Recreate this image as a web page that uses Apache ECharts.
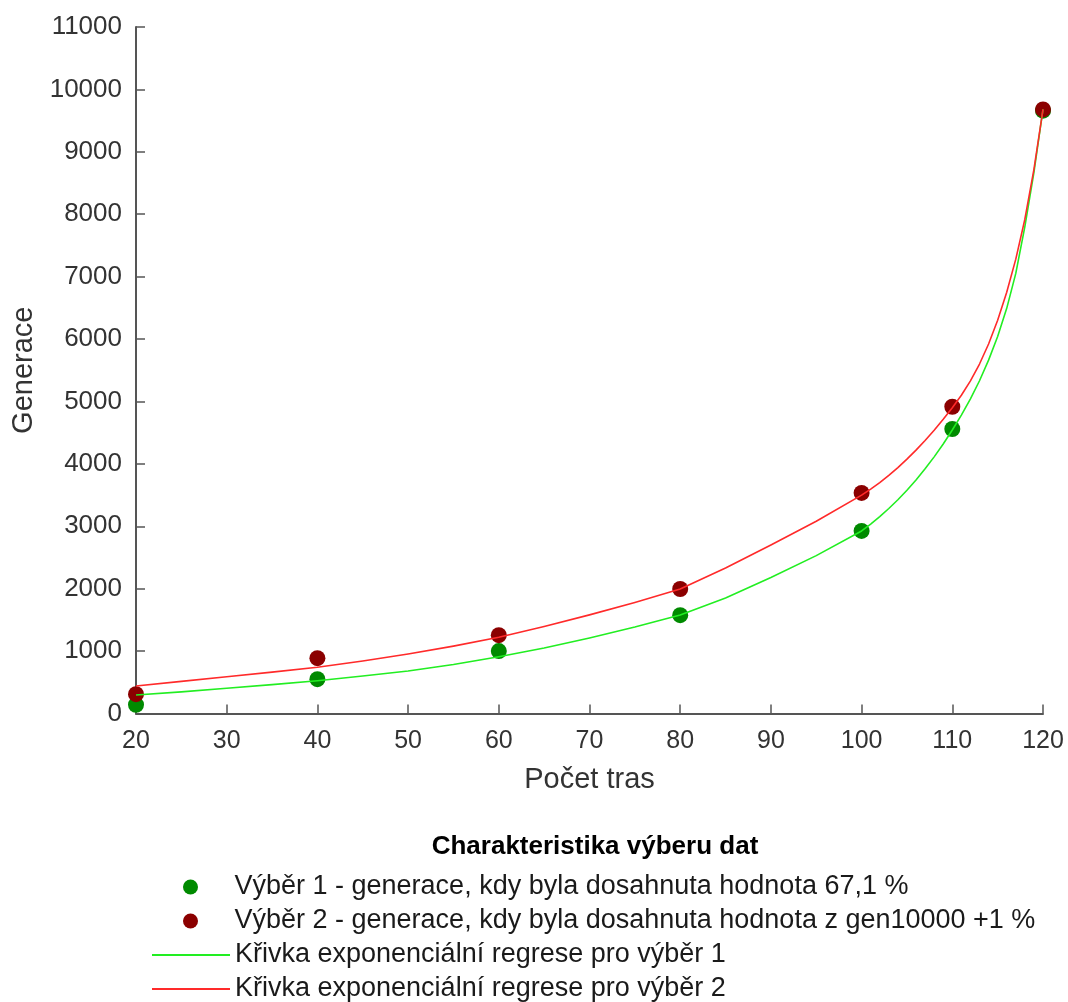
<!DOCTYPE html>
<html>
<head>
<meta charset="utf-8">
<script src="https://cdn.jsdelivr.net/npm/echarts@6/dist/echarts.min.js"></script>
<style>
html,body{margin:0;padding:0;background:#fff;}
#chart{width:1068px;height:1002px;}
</style>
</head>
<body>
<div id="chart"></div>
<script>
// Data
const pointX = [20, 40, 60, 80, 100, 110, 120];
const vyber1 = [140, 550, 1000, 1575, 2925, 4559, 9660];
const vyber2 = [310, 887, 1255, 1995, 3534, 4915, 9680];

const curveX = [20, 25, 30, 35, 40, 45, 50, 55, 60, 65, 70, 75, 80, 85, 90, 95,
  100, 101, 102, 103, 104, 105, 106, 107, 108, 109, 110,
  111, 112, 113, 114, 115, 116, 117, 118, 119, 120];
const krivka1 = [296, 347, 404, 462, 526, 600, 681, 785, 910, 1050, 1210, 1385, 1579, 1850, 2180, 2530,
  2925, 3035, 3155, 3285, 3425, 3577, 3742, 3920, 4112, 4319, 4542,
  4782, 5042, 5332, 5662, 6042, 6492, 7052, 7802, 8672, 9680];
const krivka2 = [440, 515, 590, 663, 740, 840, 954, 1080, 1221, 1395, 1580, 1780, 1995, 2330, 2700, 3080,
  3500, 3595, 3700, 3815, 3940, 4075, 4220, 4375, 4540, 4715, 4900,
  5100, 5330, 5600, 5920, 6300, 6750, 7280, 7920, 8720, 9680];

const names = [
  'Výběr 1 - generace, kdy byla dosahnuta hodnota 67,1 %',
  'Výběr 2 - generace, kdy byla dosahnuta hodnota z gen10000 +1 %',
  'Křivka exponenciální regrese pro výběr 1',
  'Křivka exponenciální regrese pro výběr 2'
];
const legendTitle = 'Charakteristika výberu dat';
const xName = 'Počet tras';
const yName = 'Generace';

const zip = (xs, ys) => xs.map((x, i) => [x, ys[i]]);

const chart = echarts.init(document.getElementById('chart'), null, {renderer: 'canvas'});
const FONT = 'Liberation Sans, Arial, sans-serif';
const axisColor = '#555';
const colors = ['#008a00', '#8b0000', '#22ee22', '#ff2a2a'];
const rowCenters = [887, 921, 955, 989];

function legendFor(i) {
  const isLine = i >= 2;
  return {
    data: [{name: names[i], icon: isLine ? 'rect' : 'circle'}],
    left: isLine ? 152 : 183, top: rowCenters[i] - 15, padding: 0,
    itemWidth: 78, itemHeight: isLine ? 2 : 15,
    itemGap: 0, itemTextGap: isLine ? 9 : 11,
    textStyle: {fontFamily: FONT, fontSize: 27, color: '#1a1a1a', lineHeight: 30},
    selectedMode: false
  };
}

chart.setOption({
  animation: false,
  backgroundColor: '#fff',
  textStyle: {fontFamily: FONT},
  title: {
    text: legendTitle,
    left: 590, top: 829, textAlign: 'center',
    textStyle: {fontFamily: FONT, fontSize: 26, fontWeight: 'bold', color: '#000'}
  },
  legend: [legendFor(0), legendFor(1), legendFor(2), legendFor(3)],
  grid: {left: 136, right: 25, top: 27, bottom: 288.5, containLabel: false},
  xAxis: {
    type: 'value', min: 20, max: 120, interval: 10,
    name: xName, nameLocation: 'middle', nameGap: 52,
    nameTextStyle: {fontFamily: FONT, fontSize: 29, color: '#333'},
    axisLine: {lineStyle: {color: axisColor, width: 2}},
    axisTick: {inside: true, length: 9, lineStyle: {color: axisColor, width: 1.5}},
    axisLabel: {fontFamily: FONT, fontSize: 25, color: '#333', margin: 15, formatter: v => String(v)},
    splitLine: {show: false}
  },
  yAxis: {
    type: 'value', min: 0, max: 11000, interval: 1000,
    name: yName, nameLocation: 'middle', nameGap: 90, nameRotate: 90,
    nameTextStyle: {fontFamily: FONT, fontSize: 29, color: '#333'},
    axisLine: {show: true, lineStyle: {color: axisColor, width: 2}},
    axisTick: {show: true, inside: true, length: 9, lineStyle: {color: axisColor, width: 1.5}},
    axisLabel: {fontFamily: FONT, fontSize: 26, color: '#333', margin: 14, formatter: v => String(v)},
    splitLine: {show: false}
  },
  series: [
    {
      name: names[0], type: 'scatter', data: zip(pointX, vyber1),
      symbol: 'circle', symbolSize: 16, itemStyle: {color: colors[0], opacity: 1}, z: 2
    },
    {
      name: names[1], type: 'scatter', data: zip(pointX, vyber2),
      symbol: 'circle', symbolSize: 16, itemStyle: {color: colors[1], opacity: 1}, z: 3
    },
    {
      name: names[2], type: 'line', data: zip(curveX, krivka1), smooth: false,
      showSymbol: false, symbol: 'none', lineStyle: {color: colors[2], width: 1.6, join: 'round'},
      itemStyle: {color: colors[2]}, z: 4
    },
    {
      name: names[3], type: 'line', data: zip(curveX, krivka2), smooth: false,
      showSymbol: false, symbol: 'none', lineStyle: {color: colors[3], width: 1.6, join: 'round'},
      itemStyle: {color: colors[3]}, z: 5
    }
  ]
});
</script>
</body>
</html>
